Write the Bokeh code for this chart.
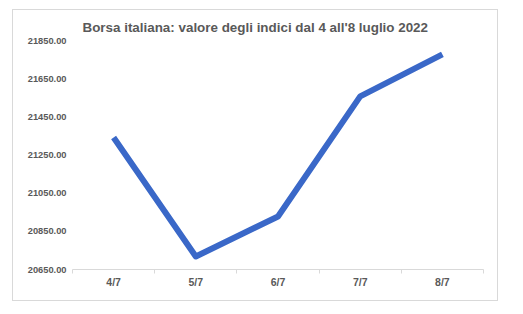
from bokeh.plotting import figure
from bokeh.models import FixedTicker, NumeralTickFormatter, Range1d, Title
from bokeh.embed import file_html
from bokeh.resources import INLINE

# Data
categories = ["4/7", "5/7", "6/7", "7/7", "8/7"]
values = [21342.0, 20718.0, 20928.0, 21557.0, 21777.0]
y_ticks = [20650, 20850, 21050, 21250, 21450, 21650, 21850]

xs = [i + 0.5 for i in range(len(categories))]

FONT = "Liberation Sans"
GREY = "#595959"

p = figure(width=484, height=290, output_backend="svg", toolbar_location=None,
           x_range=Range1d(0, len(categories)), y_range=Range1d(y_ticks[0], y_ticks[-1]),
           min_border_left=59, min_border_right=14, min_border_top=30, min_border_bottom=31,
           margin=(10, 0, 0, 13))
p.styles = {"outline": "1px solid #d9d9d9"}
p.outline_line_color = None
p.background_fill_color = "white"
p.border_fill_color = "white"
p.xgrid.visible = False
p.ygrid.visible = False

t = Title(text="Borsa italiana: valore degli indici dal 4 all'8 luglio 2022",
          align="left", offset=10, text_font=FONT, text_font_size="13.4px",
          text_font_style="bold", text_color=GREY, standoff=12)
p.add_layout(t, "above")

p.line(xs, values, line_color="#3a68c8", line_width=6, line_join="round")

xa = p.xaxis[0]
xa.ticker = FixedTicker(ticks=xs, minor_ticks=list(range(len(categories) + 1)))
xa.major_label_overrides = {x: c for x, c in zip(xs, categories)}
xa.major_tick_line_color = None
xa.major_tick_out = 0
xa.major_tick_in = 0
xa.minor_tick_line_color = "#d9d9d9"
xa.minor_tick_in = 0
xa.minor_tick_out = 4
xa.axis_line_color = "#d9d9d9"
xa.major_label_text_font = FONT
xa.major_label_text_font_size = "10.5px"
xa.major_label_text_font_style = "bold"
xa.major_label_text_color = GREY
xa.major_label_standoff = 2

ya = p.yaxis[0]
ya.ticker = FixedTicker(ticks=y_ticks)
ya.formatter = NumeralTickFormatter(format="0.00")
ya.axis_line_color = None
ya.major_tick_line_color = None
ya.major_tick_out = 0
ya.major_tick_in = 0
ya.minor_tick_line_color = None
ya.major_label_text_font = FONT
ya.major_label_text_font_size = "9.3px"
ya.major_label_text_font_style = "bold"
ya.major_label_text_color = GREY
ya.major_label_standoff = 6

open("out.html", "w").write(file_html(p, INLINE))
